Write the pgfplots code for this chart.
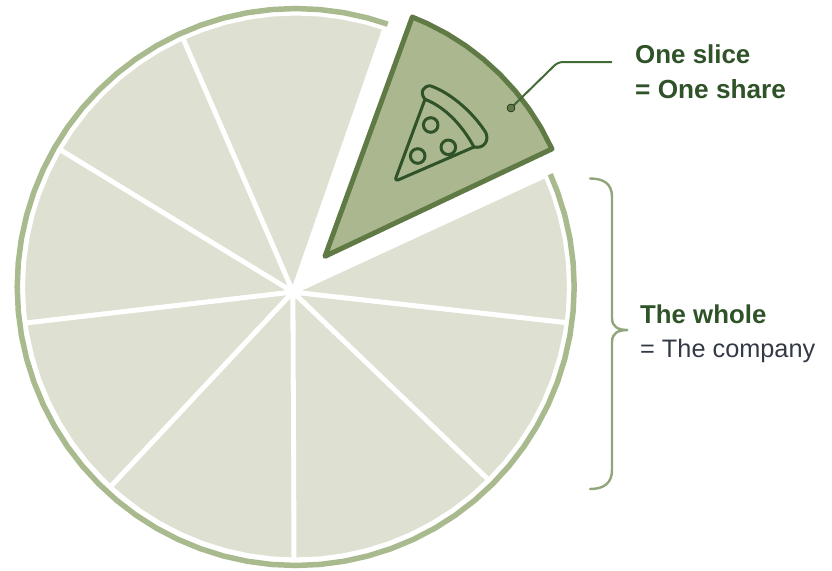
\documentclass[border=0pt]{standalone}
\usepackage{fontspec}
\setmainfont{Liberation Sans}
\usepackage{pgfplots}
\pgfplotsset{compat=1.18}

\definecolor{slicefill}{HTML}{DEE1D2}
\definecolor{ringcol}{HTML}{A9BB8E}
\definecolor{sharefill}{HTML}{ABB88F}
\definecolor{sharedge}{HTML}{5F7A45}
\definecolor{icondark}{HTML}{2F5228}
\definecolor{leader}{HTML}{446A36}
\definecolor{bracecol}{HTML}{90A67A}
\definecolor{slate}{HTML}{333A45}

% one pale slice: rows are angle (deg) and radius about the pie centre
\newcommand{\slice}[1]{%
  \addplot[fill=slicefill, draw=white, line width=4.8pt, line join=round, mark=none]
    table[row sep=\\, x expr={296+\thisrow{r}*cos(\thisrow{a})},
          y expr={286.5-\thisrow{r}*sin(\thisrow{a})}] {a r\\ #1} -- cycle;
}

\begin{document}
\begin{tikzpicture}
\begin{axis}[
  scale only axis, width=832pt, height=570pt,
  xmin=0, xmax=832, ymin=0, ymax=570, y dir=reverse,
  hide axis, clip=false]

\path (axis cs:0,0) rectangle (axis cs:832,570);

% the eight shares that stay in the pie
\slice{241.4 6.3\\ 71 273.4\\ 75 273.4\\ 80 273.4\\ 85 273.4\\ 90 273.4\\ 95 273.4\\ 100 273.4\\ 105 273.4\\ 110 273.4\\ 114.5 273.4\\}
\slice{241.4 6.3\\ 114.5 273.4\\ 120 273.4\\ 125 273.4\\ 130 273.4\\ 135 273.4\\ 140 273.4\\ 145 273.4\\ 149.9 273.4\\}
\slice{241.4 6.3\\ 149.9 273.4\\ 155 273.4\\ 160 273.4\\ 165 273.4\\ 170 273.4\\ 175 273.4\\ 180 273.4\\ 185 273.4\\ 187.7 273.4\\}
\slice{241.4 6.3\\ 187.7 273.4\\ 190 273.4\\ 195 273.4\\ 200 273.4\\ 205 273.4\\ 210 273.4\\ 215 273.4\\ 220 273.4\\ 225 273.4\\ 227.2 273.4\\}
\slice{241.4 6.3\\ 227.2 273.4\\ 230 273.4\\ 235 273.4\\ 240 273.4\\ 245 273.4\\ 250 273.4\\ 255 273.4\\ 260 273.4\\ 265 273.4\\ 269.6 273.4\\}
\slice{241.4 6.3\\ 269.6 273.4\\ 275 273.4\\ 280 273.4\\ 285 273.4\\ 290 273.4\\ 295 273.4\\ 300 273.4\\ 305 273.4\\ 310 273.4\\ 314.9 273.4\\}
\slice{241.4 6.3\\ 314.9 273.4\\ 320 273.4\\ 325 273.4\\ 330 273.4\\ 335 273.4\\ 340 273.4\\ 345 273.4\\ 350 273.4\\ 352.4 273.4\\}
\slice{241.4 6.3\\ 352.4 273.4\\ 355 273.4\\ 360 273.4\\ 365 273.4\\ 370 273.4\\ 375 273.4\\ 380 273.4\\ 384 273.4\\}

% outer rim, open where the share has been pulled out
\addplot[draw=ringcol, line width=5.5pt, mark=none]
  table[row sep=\\, x expr={295.7+278.5*cos(\thisrow{a})},
        y expr={287-278.5*sin(\thisrow{a})}] {a\\
  70.7\\ 75\\ 80\\ 85\\ 90\\ 95\\ 100\\ 105\\ 110\\ 115\\ 120\\ 125\\ 130\\ 135\\ 140\\ 145\\ 150\\
  155\\ 160\\ 165\\ 170\\ 175\\ 180\\ 185\\ 190\\ 195\\ 200\\ 205\\ 210\\ 215\\ 220\\ 225\\ 230\\
  235\\ 240\\ 245\\ 250\\ 255\\ 260\\ 265\\ 270\\ 275\\ 280\\ 285\\ 290\\ 295\\ 300\\ 305\\ 310\\
  315\\ 320\\ 325\\ 330\\ 335\\ 340\\ 345\\ 350\\ 355\\ 360\\ 365\\ 370\\ 375\\ 380\\ 383.9\\};

% the single highlighted share
\addplot[fill=sharefill, draw=sharedge, line width=5pt, line join=round, mark=none]
  table[row sep=\\, x expr={318.5+\thisrow{r}*cos(\thisrow{a})},
        y expr={256.3-\thisrow{r}*sin(\thisrow{a})}] {a r\\
  0 6.5\\ 24.7 257\\ 30 257\\ 35 257\\ 40 257\\ 45 257\\ 50 257\\ 55 257\\ 60 257\\ 65 257\\ 68.6 257\\} -- cycle;

% pizza icon
\begin{scope}[draw=icondark, line width=3pt, line cap=round, line join=round]
  \draw[rounded corners=4pt] (axis cs:425,99.3) -- (axis cs:394.5,181.5) -- (axis cs:474,147);
  \draw (axis cs:425,99.3) .. controls (axis cs:419,92) and (axis cs:424,85) .. (axis cs:431,86)
        .. controls (axis cs:453,94) and (axis cs:475,115) .. (axis cs:486,133)
        .. controls (axis cs:489,141) and (axis cs:484,149) .. (axis cs:474,147);
  \draw (axis cs:425,99.3) .. controls (axis cs:445,107) and (axis cs:462,125) .. (axis cs:474,147);
  \draw (axis cs:430.7,125) circle[radius=7.3pt];
  \draw (axis cs:448.3,147.3) circle[radius=7.3pt];
  \draw (axis cs:417.7,156) circle[radius=7.3pt];
\end{scope}

% leader from the share to its label
\draw[draw=leader, line width=2pt, rounded corners=5pt]
  (axis cs:511,108) -- (axis cs:558,62) -- (axis cs:612,62);
\addplot[only marks, mark=*, mark size=4pt, mark options={fill=sharedge, draw=none}]
  coordinates {(511,108)};

% brace spanning the pie
\draw[draw=bracecol, line width=2.4pt, line cap=round]
  (axis cs:590,178.5) .. controls (axis cs:604,178.5) and (axis cs:612,184) .. (axis cs:612,197)
  -- (axis cs:612,318) .. controls (axis cs:612,327) and (axis cs:618,330) .. (axis cs:628,330)
  .. controls (axis cs:618,330) and (axis cs:612,333) .. (axis cs:612,342)
  -- (axis cs:612,470) .. controls (axis cs:612,483) and (axis cs:604,489) .. (axis cs:590,489);

% labels
\node[anchor=base west, font=\fontsize{25.9}{30}\selectfont\bfseries, text=icondark, inner sep=0pt]
  at (axis cs:635,63) {One slice};
\node[anchor=base west, font=\fontsize{26.2}{30}\selectfont\bfseries, text=icondark, inner sep=0pt]
  at (axis cs:635,98) {= One share};
\node[anchor=base west, font=\fontsize{25.8}{30}\selectfont\bfseries, text=icondark, inner sep=0pt]
  at (axis cs:640,323) {The whole};
\node[anchor=base west, font=\fontsize{25.3}{30}\selectfont, text=slate, inner sep=0pt]
  at (axis cs:640,357) {= The company};
\end{axis}
\end{tikzpicture}
\end{document}
